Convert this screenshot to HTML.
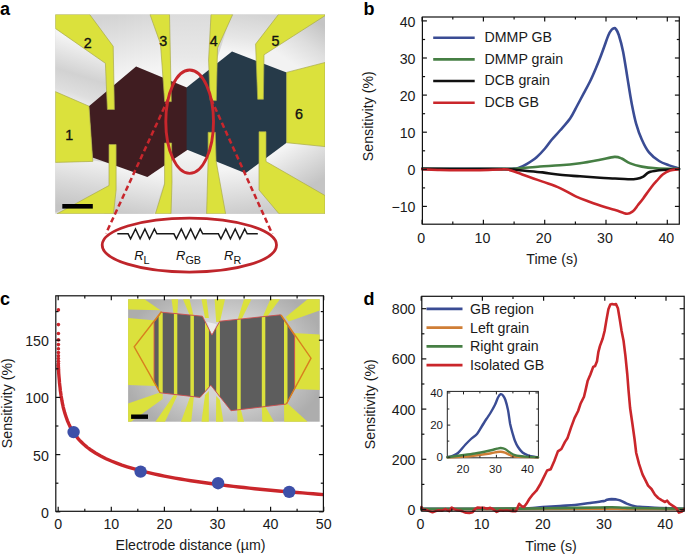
<!DOCTYPE html>
<html><head><meta charset="utf-8"><style>
html,body{margin:0;padding:0;background:#fff;}
svg{display:block;font-family:"Liberation Sans", sans-serif;}
</style></head><body>
<svg width="685" height="555" viewBox="0 0 685 555" font-family='"Liberation Sans", sans-serif'>
<rect width="685" height="555" fill="#fff"/>
<g id="pa">
<defs><linearGradient id="ga1" gradientUnits="userSpaceOnUse" x1="84.0" y1="42.0" x2="66.0" y2="100.0"><stop offset="0" stop-color="#f4f4f4"/><stop offset="0.55" stop-color="#d2d2d2"/><stop offset="0.85" stop-color="#dedede"/><stop offset="1" stop-color="#ececec"/></linearGradient><linearGradient id="ga2" gradientUnits="userSpaceOnUse" x1="120.0" y1="14.0" x2="135.0" y2="74.0"><stop offset="0" stop-color="#d4d4d4"/><stop offset="0.5" stop-color="#e4e4e4"/><stop offset="1" stop-color="#f4f4f4"/></linearGradient><linearGradient id="ga3" gradientUnits="userSpaceOnUse" x1="190.0" y1="14.0" x2="190.0" y2="85.0"><stop offset="0" stop-color="#dcdcdc"/><stop offset="0.6" stop-color="#e8e8e8"/><stop offset="1" stop-color="#f6f6f6"/></linearGradient><linearGradient id="ga4" gradientUnits="userSpaceOnUse" x1="250.0" y1="14.0" x2="245.0" y2="55.0"><stop offset="0" stop-color="#d4d4d4"/><stop offset="0.6" stop-color="#e6e6e6"/><stop offset="1" stop-color="#f6f6f6"/></linearGradient><linearGradient id="ga5" gradientUnits="userSpaceOnUse" x1="318.0" y1="22.0" x2="290.0" y2="62.0"><stop offset="0" stop-color="#c4c4c4"/><stop offset="0.5" stop-color="#dedede"/><stop offset="1" stop-color="#f2f2f2"/></linearGradient><linearGradient id="ga6" gradientUnits="userSpaceOnUse" x1="80.0" y1="160.0" x2="72.0" y2="208.0"><stop offset="0" stop-color="#eeeeee"/><stop offset="0.5" stop-color="#d8d8d8"/><stop offset="1" stop-color="#c4c4c4"/></linearGradient><linearGradient id="ga7" gradientUnits="userSpaceOnUse" x1="135.0" y1="170.0" x2="128.0" y2="213.0"><stop offset="0" stop-color="#f4f4f4"/><stop offset="0.5" stop-color="#e0e0e0"/><stop offset="1" stop-color="#cbcbcb"/></linearGradient><linearGradient id="ga8" gradientUnits="userSpaceOnUse" x1="188.0" y1="150.0" x2="188.0" y2="213.0"><stop offset="0" stop-color="#f6f6f6"/><stop offset="0.5" stop-color="#e4e4e4"/><stop offset="1" stop-color="#d0d0d0"/></linearGradient><linearGradient id="ga9" gradientUnits="userSpaceOnUse" x1="240.0" y1="168.0" x2="245.0" y2="213.0"><stop offset="0" stop-color="#f4f4f4"/><stop offset="0.5" stop-color="#e0e0e0"/><stop offset="1" stop-color="#cccccc"/></linearGradient><linearGradient id="ga10" gradientUnits="userSpaceOnUse" x1="280.0" y1="150.0" x2="305.0" y2="190.0"><stop offset="0" stop-color="#f4f4f4"/><stop offset="0.5" stop-color="#dcdcdc"/><stop offset="1" stop-color="#c4c4c4"/></linearGradient></defs>
<rect x="55.3" y="14.5" width="269.7" height="199.3" fill="#d6d6d6"/>
<polygon points="55.3,27.0 106.0,62.5 106.0,93.0 88.9,107.0 55.3,92.5" fill="url(#ga1)"/>
<polygon points="89.0,14.5 151.0,14.5 161.5,44.0 165.0,78.6 136.1,66.4 112.5,86.6 112.5,46.0" fill="url(#ga2)"/>
<polygon points="168.5,14.5 211.0,14.5 209.5,64.0 210.0,70.0 186.6,88.5 170.0,81.0" fill="url(#ga3)"/>
<polygon points="231.5,14.5 279.4,14.5 256.5,44.1 257.0,62.0 232.0,51.5 215.0,65.5" fill="url(#ga4)"/>
<polygon points="325.0,14.7 263.0,54.8 263.0,66.0 286.6,73.4 325.0,63.5" fill="url(#ga5)"/>
<polygon points="55.3,161.4 93.8,160.4 109.6,163.0 109.6,187.0 55.3,212.5" fill="url(#ga6)"/>
<polygon points="115.2,164.0 147.4,176.9 165.5,163.5 165.5,178.8 153.7,213.8 104.0,213.8 115.2,199.7" fill="url(#ga7)"/>
<polygon points="170.3,151.5 186.6,148.6 209.1,157.3 207.6,213.8 168.5,213.8 171.0,182.0" fill="url(#ga8)"/>
<polygon points="215.1,159.9 245.5,172.2 259.8,162.4 259.8,190.0 280.0,213.8 224.6,213.8" fill="url(#ga9)"/>
<polygon points="265.4,158.5 286.6,141.7 325.0,145.6 325.0,197.0 265.4,161.9" fill="url(#ga10)"/>
<polygon points="136.1,66.4 188.0,88.0 188.0,149.6 147.4,176.9 92.5,157.5 88.9,106.2" fill="#401d21"/>
<polygon points="232.0,51.5 286.6,72.4 286.6,142.7 245.5,173.2 186.6,149.6 186.6,87.4" fill="#263a49"/>
<clipPath id="aclip"><rect x="55.3" y="14.5" width="269.7" height="199.3"/></clipPath>
<g clip-path="url(#aclip)">
<polygon points="55.3,14.5 89.7,14.5 113.2,46.3 114.4,109.5 107.4,109.5 105.4,63.3 55.3,28.4" fill="#dbe13c" stroke="#a9ab4a" stroke-width="0.7"/>
<polygon points="55.3,91.6 89.0,106.2 92.8,161.4 55.3,162.4" fill="#dbe13c" stroke="#a9ab4a" stroke-width="0.7"/>
<polygon points="150.0,14.5 169.5,14.5 171.3,101.6 164.7,101.6 160.5,44.0" fill="#dbe13c" stroke="#a9ab4a" stroke-width="0.7"/>
<polygon points="211.0,14.5 232.7,14.5 217.5,48.0 216.3,100.6 210.2,100.6 208.6,60.0" fill="#dbe13c" stroke="#a9ab4a" stroke-width="0.7"/>
<polygon points="278.4,14.5 325.0,14.5 325.0,15.7 264.0,54.8 263.4,99.3 257.7,99.3 255.6,44.1" fill="#dbe13c" stroke="#a9ab4a" stroke-width="0.7"/>
<polygon points="286.6,72.4 325.0,62.5 325.0,146.6 286.6,142.7" fill="#dbe13c" stroke="#a9ab4a" stroke-width="0.7"/>
<polygon points="109.0,144.5 116.1,144.5 116.1,190.0 113.5,213.8 57.0,213.8 109.0,185.5" fill="#dbe13c" stroke="#a9ab4a" stroke-width="0.7"/>
<polygon points="164.6,143.0 171.6,143.0 172.0,182.0 171.0,213.8 155.4,213.8 164.6,184.0" fill="#dbe13c" stroke="#a9ab4a" stroke-width="0.7"/>
<polygon points="208.1,132.3 215.3,132.3 216.1,160.9 225.6,213.8 206.6,213.8 208.1,160.0" fill="#dbe13c" stroke="#a9ab4a" stroke-width="0.7"/>
<polygon points="259.0,131.7 266.0,131.7 266.0,161.5 325.0,195.5 325.0,213.8 279.0,213.8 259.0,190.0" fill="#dbe13c" stroke="#a9ab4a" stroke-width="0.7"/>
</g>
<rect x="62.3" y="204" width="30.5" height="4.6" fill="#000"/>
<text x="87.7" y="47.8" font-size="14.3" text-anchor="middle" fill="#111" stroke="#111" stroke-width="0.35">2</text>
<text x="163.3" y="46" font-size="14.3" text-anchor="middle" fill="#111" stroke="#111" stroke-width="0.35">3</text>
<text x="213.7" y="46" font-size="14.3" text-anchor="middle" fill="#111" stroke="#111" stroke-width="0.35">4</text>
<text x="275.5" y="46" font-size="14.3" text-anchor="middle" fill="#111" stroke="#111" stroke-width="0.35">5</text>
<text x="69.2" y="140.4" font-size="14.3" text-anchor="middle" fill="#111" stroke="#111" stroke-width="0.35">1</text>
<text x="299" y="119.4" font-size="14.3" text-anchor="middle" fill="#111" stroke="#111" stroke-width="0.35">6</text>
<ellipse cx="189.65" cy="121.7" rx="23.85" ry="51.7" fill="none" stroke="#c8262c" stroke-width="2.9"/>
<line x1="168.2" y1="99" x2="106" y2="233.5" stroke="#c8262c" stroke-width="2.5" stroke-dasharray="5.4,3.3"/>
<line x1="211.1" y1="99" x2="272.3" y2="234" stroke="#c8262c" stroke-width="2.5" stroke-dasharray="5.4,3.3"/>
<ellipse cx="189.35" cy="245.1" rx="87.15" ry="27" fill="none" stroke="#bf252b" stroke-width="2.8"/>
<polyline points="117.3,233.8 128.1,233.8 130.6,238.8 135.5,228.9 140.1,238.8 144.9,228.9 149.5,238.8 154.4,228.9 156.9,233.8 173.9,233.8 176.4,238.8 181.3,228.9 185.9,238.8 190.7,228.9 195.3,238.8 200.2,228.9 202.7,233.8 218.4,233.8 220.9,238.8 225.8,228.9 230.4,238.8 235.2,228.9 239.8,238.8 244.7,228.9 247.2,233.8 257.8,233.8" fill="none" stroke="#1a1a1a" stroke-width="1.5" stroke-linejoin="miter"/>
<text x="134.2" y="260.1" font-size="13" font-style="italic" fill="#111">R<tspan font-style="normal" font-size="10.8" dy="3.8">L</tspan></text>
<text x="176" y="260.1" font-size="13" font-style="italic" fill="#111">R<tspan font-style="normal" font-size="10.8" dy="3.8">GB</tspan></text>
<text x="224" y="260.1" font-size="13" font-style="italic" fill="#111">R<tspan font-style="normal" font-size="10.8" dy="3.8">R</tspan></text>
<text x="0" y="15.2" font-size="18" font-weight="bold" fill="#000">a</text>
</g>
<text x="363.5" y="15.3" font-size="18" font-weight="bold">b</text>
<g fill="none" stroke-width="2.6" stroke-linejoin="round" stroke-linecap="round">
<path d="M422.3,168.9 C436.1,168.9 490.1,168.9 505.0,168.9 C520.0,168.9 509.8,168.8 512.0,168.7 C514.2,168.5 515.9,168.8 518.4,168.0 C520.9,167.2 524.0,165.6 527.0,163.8 C530.0,162.0 533.6,159.8 536.6,157.2 C539.6,154.6 542.5,151.4 545.0,148.5 C547.5,145.6 549.4,142.5 551.9,139.5 C554.4,136.5 557.0,134.0 560.0,130.5 C563.0,127.0 567.3,122.6 570.1,118.5 C572.9,114.4 574.7,110.3 577.0,106.0 C579.3,101.7 581.9,96.8 584.1,92.7 C586.3,88.6 588.0,85.5 590.0,81.5 C592.0,77.5 594.0,72.8 595.8,68.5 C597.6,64.2 599.5,59.5 601.0,55.5 C602.5,51.5 603.8,47.9 605.0,44.5 C606.2,41.1 607.4,37.5 608.5,35.0 C609.6,32.5 610.7,30.9 611.6,29.8 C612.5,28.7 613.1,28.5 613.8,28.3 C614.5,28.1 615.0,27.8 615.8,28.9 C616.6,30.0 617.6,31.2 618.8,35.0 C620.0,38.8 621.7,44.6 623.1,51.7 C624.5,58.8 626.0,69.0 627.4,77.6 C628.8,86.2 630.2,95.8 631.7,103.5 C633.2,111.2 634.4,117.6 636.1,123.6 C637.8,129.6 639.6,134.7 641.8,139.5 C643.9,144.3 646.1,148.8 649.0,152.4 C651.9,156.0 655.7,158.8 659.1,161.0 C662.5,163.2 666.1,164.2 669.2,165.4 C672.3,166.6 676.2,167.6 677.8,168.2 C679.4,168.8 678.8,168.8 679.0,168.9" stroke="#3a4c94"/>
<path d="M422.3,168.9 C436.1,168.9 489.0,169.0 505.0,168.9 C521.0,168.8 512.6,168.8 518.4,168.4 C524.2,168.0 533.1,167.0 540.0,166.5 C546.9,166.0 553.3,165.9 560.0,165.3 C566.7,164.8 573.3,164.1 580.0,163.2 C586.7,162.3 594.2,160.8 600.0,159.7 C605.8,158.6 610.9,157.1 614.5,156.9 C618.1,156.7 619.1,157.4 621.7,158.5 C624.3,159.6 626.9,162.1 630.3,163.4 C633.6,164.8 637.5,165.8 641.8,166.6 C646.1,167.4 650.0,167.8 656.2,168.2 C662.4,168.6 675.2,168.8 679.0,168.9" stroke="#467f44"/>
<path d="M422.3,168.9 C430.2,168.9 455.7,169.1 470.0,169.1 C484.3,169.1 498.7,168.9 507.9,169.2 C517.1,169.5 519.2,170.3 525.0,170.8 C530.8,171.3 536.8,171.7 542.6,172.4 C548.4,173.1 553.8,174.2 560.0,174.8 C566.2,175.5 573.3,175.8 580.0,176.3 C586.7,176.8 594.2,177.3 600.0,177.7 C605.8,178.1 610.3,178.2 615.0,178.5 C619.7,178.8 624.3,179.2 628.0,179.3 C631.7,179.4 634.5,179.2 637.0,178.8 C639.5,178.4 641.3,177.7 643.3,176.6 C645.3,175.5 646.4,173.4 649.0,172.3 C651.6,171.2 655.6,170.8 659.1,170.3 C662.6,169.9 666.7,169.8 670.0,169.6 C673.3,169.4 677.5,169.1 679.0,169.0" stroke="#111111"/>
<path d="M422.3,169.2 C425.2,169.3 433.7,169.8 440.0,170.0 C446.3,170.2 453.3,170.3 460.0,170.3 C466.7,170.3 473.3,170.3 480.0,170.2 C486.7,170.1 495.4,169.6 500.0,169.5 C504.6,169.4 504.2,168.8 507.9,169.6 C511.6,170.4 516.4,172.4 522.2,174.4 C528.0,176.4 536.3,179.3 542.6,181.6 C548.9,183.9 554.5,185.6 560.0,188.1 C565.5,190.6 570.7,194.1 575.7,196.4 C580.7,198.7 584.9,200.1 590.0,202.0 C595.1,203.9 602.0,206.2 606.3,207.6 C610.6,209.0 612.6,209.2 616.0,210.2 C619.4,211.2 624.0,213.5 626.8,213.7 C629.6,213.9 631.0,212.6 632.9,211.2 C634.8,209.8 636.3,207.1 638.0,205.0 C639.7,202.9 641.0,201.4 643.2,198.4 C645.4,195.4 648.9,190.3 651.3,187.2 C653.7,184.1 655.6,182.1 657.5,180.0 C659.4,177.9 660.6,176.1 662.7,174.5 C664.8,172.9 667.4,171.4 670.0,170.5 C672.6,169.6 677.1,169.4 678.5,169.2" stroke="#ca262b"/>
</g>
<g font-family='"Liberation Sans", sans-serif' fill="#1a1a1a">
<rect x="422.4" y="17.0" width="256.9" height="207.2" fill="none" stroke="#111" stroke-width="1.2"/>
<line x1="422.1" y1="224.2" x2="422.1" y2="219.7" stroke="#111" stroke-width="1.2"/>
<line x1="422.1" y1="17.0" x2="422.1" y2="21.5" stroke="#111" stroke-width="1.2"/>
<text x="421.1" y="242.8" font-size="14.2" text-anchor="middle">0</text>
<line x1="483.4" y1="224.2" x2="483.4" y2="219.7" stroke="#111" stroke-width="1.2"/>
<line x1="483.4" y1="17.0" x2="483.4" y2="21.5" stroke="#111" stroke-width="1.2"/>
<text x="482.4" y="242.8" font-size="14.2" text-anchor="middle">10</text>
<line x1="544.7" y1="224.2" x2="544.7" y2="219.7" stroke="#111" stroke-width="1.2"/>
<line x1="544.7" y1="17.0" x2="544.7" y2="21.5" stroke="#111" stroke-width="1.2"/>
<text x="543.7" y="242.8" font-size="14.2" text-anchor="middle">20</text>
<line x1="606.0" y1="224.2" x2="606.0" y2="219.7" stroke="#111" stroke-width="1.2"/>
<line x1="606.0" y1="17.0" x2="606.0" y2="21.5" stroke="#111" stroke-width="1.2"/>
<text x="605.0" y="242.8" font-size="14.2" text-anchor="middle">30</text>
<line x1="667.3" y1="224.2" x2="667.3" y2="219.7" stroke="#111" stroke-width="1.2"/>
<line x1="667.3" y1="17.0" x2="667.3" y2="21.5" stroke="#111" stroke-width="1.2"/>
<text x="666.3" y="242.8" font-size="14.2" text-anchor="middle">40</text>
<line x1="452.8" y1="224.2" x2="452.8" y2="221.6" stroke="#111" stroke-width="1.2"/>
<line x1="452.8" y1="17.0" x2="452.8" y2="19.6" stroke="#111" stroke-width="1.2"/>
<line x1="514.1" y1="224.2" x2="514.1" y2="221.6" stroke="#111" stroke-width="1.2"/>
<line x1="514.1" y1="17.0" x2="514.1" y2="19.6" stroke="#111" stroke-width="1.2"/>
<line x1="575.4" y1="224.2" x2="575.4" y2="221.6" stroke="#111" stroke-width="1.2"/>
<line x1="575.4" y1="17.0" x2="575.4" y2="19.6" stroke="#111" stroke-width="1.2"/>
<line x1="636.6" y1="224.2" x2="636.6" y2="221.6" stroke="#111" stroke-width="1.2"/>
<line x1="636.6" y1="17.0" x2="636.6" y2="19.6" stroke="#111" stroke-width="1.2"/>
<line x1="422.4" y1="20.9" x2="426.9" y2="20.9" stroke="#111" stroke-width="1.2"/>
<line x1="679.4" y1="20.9" x2="674.9" y2="20.9" stroke="#111" stroke-width="1.2"/>
<text x="415.5" y="26.8" font-size="14.2" text-anchor="end">40</text>
<line x1="422.4" y1="58.0" x2="426.9" y2="58.0" stroke="#111" stroke-width="1.2"/>
<line x1="679.4" y1="58.0" x2="674.9" y2="58.0" stroke="#111" stroke-width="1.2"/>
<text x="415.5" y="63.9" font-size="14.2" text-anchor="end">30</text>
<line x1="422.4" y1="95.1" x2="426.9" y2="95.1" stroke="#111" stroke-width="1.2"/>
<line x1="679.4" y1="95.1" x2="674.9" y2="95.1" stroke="#111" stroke-width="1.2"/>
<text x="415.5" y="101.0" font-size="14.2" text-anchor="end">20</text>
<line x1="422.4" y1="132.2" x2="426.9" y2="132.2" stroke="#111" stroke-width="1.2"/>
<line x1="679.4" y1="132.2" x2="674.9" y2="132.2" stroke="#111" stroke-width="1.2"/>
<text x="415.5" y="138.1" font-size="14.2" text-anchor="end">10</text>
<line x1="422.4" y1="169.3" x2="426.9" y2="169.3" stroke="#111" stroke-width="1.2"/>
<line x1="679.4" y1="169.3" x2="674.9" y2="169.3" stroke="#111" stroke-width="1.2"/>
<text x="415.5" y="175.2" font-size="14.2" text-anchor="end">0</text>
<line x1="422.4" y1="206.4" x2="426.9" y2="206.4" stroke="#111" stroke-width="1.2"/>
<line x1="679.4" y1="206.4" x2="674.9" y2="206.4" stroke="#111" stroke-width="1.2"/>
<text x="415.5" y="212.3" font-size="14.2" text-anchor="end">−10</text>
<line x1="422.4" y1="39.5" x2="425.1" y2="39.5" stroke="#111" stroke-width="1.2"/>
<line x1="679.4" y1="39.5" x2="676.8" y2="39.5" stroke="#111" stroke-width="1.2"/>
<line x1="422.4" y1="76.6" x2="425.1" y2="76.6" stroke="#111" stroke-width="1.2"/>
<line x1="679.4" y1="76.6" x2="676.8" y2="76.6" stroke="#111" stroke-width="1.2"/>
<line x1="422.4" y1="113.7" x2="425.1" y2="113.7" stroke="#111" stroke-width="1.2"/>
<line x1="679.4" y1="113.7" x2="676.8" y2="113.7" stroke="#111" stroke-width="1.2"/>
<line x1="422.4" y1="150.8" x2="425.1" y2="150.8" stroke="#111" stroke-width="1.2"/>
<line x1="679.4" y1="150.8" x2="676.8" y2="150.8" stroke="#111" stroke-width="1.2"/>
<line x1="422.4" y1="187.9" x2="425.1" y2="187.9" stroke="#111" stroke-width="1.2"/>
<line x1="679.4" y1="187.9" x2="676.8" y2="187.9" stroke="#111" stroke-width="1.2"/>
</g>
<line x1="433.2" y1="37.7" x2="474.7" y2="37.7" stroke="#3a4c94" stroke-width="2.6"/>
<text x="484.5" y="41.8" font-size="14.2" fill="#1a1a1a">DMMP GB</text>
<line x1="433.2" y1="59.4" x2="474.7" y2="59.4" stroke="#467f44" stroke-width="2.6"/>
<text x="484.5" y="63.5" font-size="14.2" fill="#1a1a1a">DMMP grain</text>
<line x1="433.2" y1="81.0" x2="474.7" y2="81.0" stroke="#111111" stroke-width="2.6"/>
<text x="484.5" y="85.1" font-size="14.2" fill="#1a1a1a">DCB grain</text>
<line x1="433.2" y1="102.7" x2="474.7" y2="102.7" stroke="#ca262b" stroke-width="2.6"/>
<text x="484.5" y="106.8" font-size="14.2" fill="#1a1a1a">DCB GB</text>
<text x="552" y="263.7" font-size="14.2" text-anchor="middle" fill="#1a1a1a">Time (s)</text>
<text transform="translate(372.5,116.2) rotate(-90)" font-size="14.2" text-anchor="middle" fill="#1a1a1a">Sensitivity (%)</text>
<text x="0" y="304.6" font-size="18" font-weight="bold">c</text>
<g>
<defs><radialGradient id="gc1" gradientUnits="userSpaceOnUse" cx="224" cy="360" r="105" gradientTransform="translate(224 360) scale(1 0.75) translate(-224 -360)"><stop offset="0.5" stop-color="#d4d4d4"/><stop offset="1" stop-color="#adadad"/></radialGradient></defs>
<rect x="128.1" y="299.2" width="191.6" height="122.5" fill="url(#gc1)"/>
<polygon points="128.1,299.2 144.5,299.2 160.5,310.3 128.1,309.5" fill="#dbe13c"/>
<polygon points="128.1,318.0 156.0,320.5 156.0,386.0 128.1,385.0" fill="#dbe13c"/>
<polygon points="171.5,299.2 178.1,299.2 177.3,316.0 173.9,316.0" fill="#dbe13c"/>
<polygon points="183.0,299.2 189.5,299.2 193.9,317.0 190.4,317.0" fill="#dbe13c"/>
<polygon points="201.5,299.2 206.6,299.2 208.9,318.0 205.0,318.0" fill="#dbe13c"/>
<polygon points="214.6,299.2 225.0,299.2 219.9,322.0 216.2,322.0" fill="#dbe13c"/>
<polygon points="244.0,299.2 251.4,299.2 240.7,321.0 237.2,321.0" fill="#dbe13c"/>
<polygon points="270.4,299.2 279.9,299.2 265.3,319.0 261.8,319.0" fill="#dbe13c"/>
<polygon points="285.7,317.0 307.6,299.2 319.7,299.2 319.7,310.4 288.6,321.4" fill="#dbe13c"/>
<polygon points="293.0,333.0 319.7,334.5 319.7,390.0 293.0,389.0" fill="#dbe13c"/>
<polygon points="158.6,393.0 162.7,394.0 162.7,399.0 131.0,421.7 128.1,421.7 128.1,403.5" fill="#dbe13c"/>
<polygon points="173.9,395.0 177.3,395.5 165.0,421.7 155.4,421.7" fill="#dbe13c"/>
<polygon points="190.4,396.0 193.9,396.5 191.2,421.7 181.0,421.7" fill="#dbe13c"/>
<polygon points="205.0,395.0 208.9,391.0 208.8,421.7 201.5,421.7" fill="#dbe13c"/>
<polygon points="216.2,396.0 219.9,400.0 223.4,421.7 216.0,421.7" fill="#dbe13c"/>
<polygon points="237.2,409.0 240.7,409.0 244.0,421.7 237.5,421.7" fill="#dbe13c"/>
<polygon points="261.8,407.0 265.3,406.5 274.0,421.7 262.3,421.7" fill="#dbe13c"/>
<polygon points="284.0,404.0 287.5,403.5 307.6,421.7 284.2,421.7" fill="#dbe13c"/>
<polygon points="207,322 216.5,324 211.9,336" fill="#ececec"/>
<polygon points="154.1,322.0 161.5,312.2 202.4,316.2 211.9,335.1 219.9,321.2 280.6,314.8 294.6,336.0 294.6,388.6 286.4,404.0 231.0,410.7 210.8,385.2 200.0,397.4 160.2,392.8 154.1,382.1" fill="#5d5d5d"/>
<clipPath id="fc"><polygon points="154.1,322.0 161.5,312.2 202.4,316.2 211.9,335.1 219.9,321.2 280.6,314.8 294.6,336.0 294.6,388.6 286.4,404.0 231.0,410.7 210.8,385.2 200.0,397.4 160.2,392.8 154.1,382.1"/></clipPath>
<g clip-path="url(#fc)">
<rect x="158.6" y="299" width="4.1" height="122" fill="#dbe13c"/>
<rect x="173.9" y="299" width="3.4" height="122" fill="#dbe13c"/>
<rect x="190.4" y="299" width="3.5" height="122" fill="#dbe13c"/>
<rect x="205.0" y="299" width="3.9" height="122" fill="#dbe13c"/>
<rect x="216.2" y="299" width="3.7" height="122" fill="#dbe13c"/>
<rect x="237.2" y="299" width="3.5" height="122" fill="#dbe13c"/>
<rect x="261.8" y="299" width="3.5" height="122" fill="#dbe13c"/>
<rect x="284.0" y="299" width="3.5" height="122" fill="#dbe13c"/>
</g>
<polygon points="154.1,322.0 161.5,312.2 202.4,316.2 211.9,335.1 219.9,321.2 280.6,314.8 294.6,336.0 294.6,388.6 286.4,404.0 231.0,410.7 210.8,385.2 200.0,397.4 160.2,392.8 154.1,382.1" fill="none" stroke="#cf4f4f" stroke-width="0.9"/>
<polyline points="161.5,311.5 134.2,346.9 160.2,392.8" fill="none" stroke="#d8801e" stroke-width="1.4"/>
<polyline points="281.0,315.0 311.0,358.2 286.4,404.0" fill="none" stroke="#d8801e" stroke-width="1.4"/>
<rect x="131.1" y="414.5" width="16.9" height="4.4" fill="#000"/>
</g>
<path d="M58.2,364.1 L58.5,368.9 L58.7,373.1 L59.0,376.8 L59.3,380.0 L59.5,382.9 L59.8,385.6 L60.1,388.0 L60.3,390.2 L60.6,392.3 L60.9,394.2 L61.1,396.0 L61.4,397.6 L61.7,399.2 L61.9,400.7 L62.2,402.1 L62.4,403.4 L62.7,404.7 L63.0,405.9 L63.2,407.1 L63.5,408.2 L64.8,413.1 L66.2,417.2 L67.5,420.8 L68.8,423.9 L70.1,426.6 L71.5,429.1 L72.8,431.3 L74.1,433.3 L75.5,435.2 L76.8,436.9 L78.1,438.6 L79.4,440.1 L80.8,441.5 L82.1,442.8 L83.4,444.1 L84.8,445.3 L86.1,446.4 L87.4,447.5 L88.7,448.5 L90.1,449.5 L95.4,453.0 L100.7,456.0 L106.0,458.7 L111.3,461.0 L116.6,463.1 L121.9,465.1 L127.2,466.8 L132.5,468.4 L137.8,469.9 L143.2,471.3 L148.5,472.6 L153.8,473.8 L159.1,475.0 L164.4,476.1 L169.7,477.1 L175.0,478.1 L180.3,479.0 L185.6,479.9 L190.9,480.7 L196.3,481.5 L201.6,482.3 L206.9,483.0 L212.2,483.8 L217.5,484.4 L222.8,485.1 L228.1,485.7 L233.4,486.4 L238.7,487.0 L244.1,487.5 L249.4,488.1 L254.7,488.7 L260.0,489.2 L265.3,489.7 L270.6,490.2 L275.9,490.7 L281.2,491.2 L286.5,491.6 L291.8,492.1 L297.1,492.5 L302.5,492.9 L307.8,493.4 L313.1,493.8 L318.4,494.2 L323.7,494.6" fill="none" stroke="#ca262b" stroke-width="3.4"/>
<circle cx="58.4" cy="309.9" r="1.8" fill="#ca262b"/>
<circle cx="58.4" cy="324.6" r="1.8" fill="#ca262b"/>
<circle cx="58.4" cy="333.5" r="1.8" fill="#ca262b"/>
<circle cx="58.4" cy="339.9" r="1.8" fill="#ca262b"/>
<circle cx="58.4" cy="344.6" r="1.8" fill="#ca262b"/>
<circle cx="58.4" cy="348.8" r="1.8" fill="#ca262b"/>
<circle cx="58.4" cy="352.6" r="1.8" fill="#ca262b"/>
<circle cx="58.4" cy="355.8" r="1.8" fill="#ca262b"/>
<circle cx="58.4" cy="358.6" r="1.8" fill="#ca262b"/>
<circle cx="58.4" cy="361.2" r="1.8" fill="#ca262b"/>
<circle cx="58.4" cy="363.6" r="1.8" fill="#ca262b"/>
<circle cx="58.4" cy="365.8" r="1.8" fill="#ca262b"/>
<circle cx="58.4" cy="367.8" r="1.8" fill="#ca262b"/>
<circle cx="58.4" cy="369.7" r="1.8" fill="#ca262b"/>
<circle cx="73.6" cy="432.1" r="6.2" fill="#3d4fa8"/>
<circle cx="140.6" cy="471.6" r="6.2" fill="#3d4fa8"/>
<circle cx="218.1" cy="483.2" r="6.2" fill="#3d4fa8"/>
<circle cx="289.2" cy="491.9" r="6.2" fill="#3d4fa8"/>
<g fill="#1a1a1a">
<rect x="55.8" y="295.8" width="267.6" height="215.5" fill="none" stroke="#111" stroke-width="1.2"/>
<line x1="58.2" y1="511.3" x2="58.2" y2="506.8" stroke="#111" stroke-width="1.2"/>
<line x1="58.2" y1="295.8" x2="58.2" y2="300.3" stroke="#111" stroke-width="1.2"/>
<text x="58.2" y="529.3" font-size="14.2" text-anchor="middle">0</text>
<line x1="111.3" y1="511.3" x2="111.3" y2="506.8" stroke="#111" stroke-width="1.2"/>
<line x1="111.3" y1="295.8" x2="111.3" y2="300.3" stroke="#111" stroke-width="1.2"/>
<text x="111.3" y="529.3" font-size="14.2" text-anchor="middle">10</text>
<line x1="164.4" y1="511.3" x2="164.4" y2="506.8" stroke="#111" stroke-width="1.2"/>
<line x1="164.4" y1="295.8" x2="164.4" y2="300.3" stroke="#111" stroke-width="1.2"/>
<text x="164.4" y="529.3" font-size="14.2" text-anchor="middle">20</text>
<line x1="217.5" y1="511.3" x2="217.5" y2="506.8" stroke="#111" stroke-width="1.2"/>
<line x1="217.5" y1="295.8" x2="217.5" y2="300.3" stroke="#111" stroke-width="1.2"/>
<text x="217.5" y="529.3" font-size="14.2" text-anchor="middle">30</text>
<line x1="270.6" y1="511.3" x2="270.6" y2="506.8" stroke="#111" stroke-width="1.2"/>
<line x1="270.6" y1="295.8" x2="270.6" y2="300.3" stroke="#111" stroke-width="1.2"/>
<text x="270.6" y="529.3" font-size="14.2" text-anchor="middle">40</text>
<line x1="323.7" y1="511.3" x2="323.7" y2="506.8" stroke="#111" stroke-width="1.2"/>
<line x1="323.7" y1="295.8" x2="323.7" y2="300.3" stroke="#111" stroke-width="1.2"/>
<text x="323.7" y="529.3" font-size="14.2" text-anchor="middle">50</text>
<line x1="84.8" y1="511.3" x2="84.8" y2="508.7" stroke="#111" stroke-width="1.2"/>
<line x1="84.8" y1="295.8" x2="84.8" y2="298.4" stroke="#111" stroke-width="1.2"/>
<line x1="137.8" y1="511.3" x2="137.8" y2="508.7" stroke="#111" stroke-width="1.2"/>
<line x1="137.8" y1="295.8" x2="137.8" y2="298.4" stroke="#111" stroke-width="1.2"/>
<line x1="190.9" y1="511.3" x2="190.9" y2="508.7" stroke="#111" stroke-width="1.2"/>
<line x1="190.9" y1="295.8" x2="190.9" y2="298.4" stroke="#111" stroke-width="1.2"/>
<line x1="244.1" y1="511.3" x2="244.1" y2="508.7" stroke="#111" stroke-width="1.2"/>
<line x1="244.1" y1="295.8" x2="244.1" y2="298.4" stroke="#111" stroke-width="1.2"/>
<line x1="297.1" y1="511.3" x2="297.1" y2="508.7" stroke="#111" stroke-width="1.2"/>
<line x1="297.1" y1="295.8" x2="297.1" y2="298.4" stroke="#111" stroke-width="1.2"/>
<line x1="55.8" y1="511.8" x2="60.3" y2="511.8" stroke="#111" stroke-width="1.2"/>
<line x1="323.4" y1="511.8" x2="318.9" y2="511.8" stroke="#111" stroke-width="1.2"/>
<text x="48.8" y="517.7" font-size="14.2" text-anchor="end">0</text>
<line x1="55.8" y1="454.6" x2="60.3" y2="454.6" stroke="#111" stroke-width="1.2"/>
<line x1="323.4" y1="454.6" x2="318.9" y2="454.6" stroke="#111" stroke-width="1.2"/>
<text x="48.8" y="460.5" font-size="14.2" text-anchor="end">50</text>
<line x1="55.8" y1="397.4" x2="60.3" y2="397.4" stroke="#111" stroke-width="1.2"/>
<line x1="323.4" y1="397.4" x2="318.9" y2="397.4" stroke="#111" stroke-width="1.2"/>
<text x="48.8" y="403.3" font-size="14.2" text-anchor="end">100</text>
<line x1="55.8" y1="340.2" x2="60.3" y2="340.2" stroke="#111" stroke-width="1.2"/>
<line x1="323.4" y1="340.2" x2="318.9" y2="340.2" stroke="#111" stroke-width="1.2"/>
<text x="48.8" y="346.1" font-size="14.2" text-anchor="end">150</text>
<line x1="55.8" y1="483.2" x2="58.4" y2="483.2" stroke="#111" stroke-width="1.2"/>
<line x1="323.4" y1="483.2" x2="320.8" y2="483.2" stroke="#111" stroke-width="1.2"/>
<line x1="55.8" y1="426.0" x2="58.4" y2="426.0" stroke="#111" stroke-width="1.2"/>
<line x1="323.4" y1="426.0" x2="320.8" y2="426.0" stroke="#111" stroke-width="1.2"/>
<line x1="55.8" y1="368.8" x2="58.4" y2="368.8" stroke="#111" stroke-width="1.2"/>
<line x1="323.4" y1="368.8" x2="320.8" y2="368.8" stroke="#111" stroke-width="1.2"/>
<line x1="55.8" y1="311.6" x2="58.4" y2="311.6" stroke="#111" stroke-width="1.2"/>
<line x1="323.4" y1="311.6" x2="320.8" y2="311.6" stroke="#111" stroke-width="1.2"/>
</g>
<text x="190.5" y="550" font-size="14.2" text-anchor="middle" fill="#1a1a1a">Electrode distance (µm)</text>
<text transform="translate(11.6,403.2) rotate(-90)" font-size="14.2" text-anchor="middle" fill="#1a1a1a">Sensitivity (%)</text>
<text x="363.5" y="304.5" font-size="18" font-weight="bold">d</text>
<g fill="none" stroke-width="2.6" stroke-linejoin="round" stroke-linecap="round">
<path d="M421.5,508.8 C437.6,508.8 498.2,508.9 518.0,508.6 C537.8,508.4 533.0,507.7 540.0,507.3 C547.0,506.9 554.2,506.4 560.0,506.0 C565.8,505.6 570.0,505.5 575.0,505.0 C580.0,504.5 585.2,503.6 590.0,503.0 C594.8,502.4 600.7,501.7 603.5,501.1 C606.3,500.6 605.6,500.0 607.0,499.7 C608.4,499.4 610.1,499.2 611.6,499.1 C613.1,499.1 614.6,499.2 616.0,499.4 C617.4,499.6 618.3,499.7 620.1,500.4 C621.9,501.1 624.1,502.6 626.7,503.6 C629.3,504.6 633.1,505.9 635.7,506.5 C638.3,507.1 638.5,506.8 642.5,507.0 C646.5,507.2 653.1,507.7 660.0,508.0 C666.9,508.3 680.0,508.7 684.0,508.8" stroke="#3a4c94"/>
<path d="M421.5,509.2 C451.2,509.1 568.2,508.8 600.0,508.7 C631.8,508.6 607.0,508.5 612.0,508.5 C617.0,508.5 618.0,508.8 630.0,508.9 C642.0,509.0 675.0,509.1 684.0,509.2" stroke="#cf7e36"/>
<path d="M421.5,508.8 C437.9,508.8 496.9,508.7 520.0,508.6 C543.1,508.5 546.7,508.3 560.0,508.1 C573.3,507.9 591.3,507.6 600.0,507.5 C608.7,507.4 607.8,507.2 612.0,507.3 C616.2,507.4 619.5,507.6 625.0,507.8 C630.5,508.0 635.2,508.2 645.0,508.3 C654.8,508.4 677.5,508.6 684.0,508.7" stroke="#467f44"/>
<path d="M421.5,507.0 L422.8,509.5 L426.0,509.8 L429.2,511.1 L432.5,512.3 L435.7,511.1 L438.9,510.3 L442.1,510.7 L445.3,509.1 L447.7,510.3 L449.3,511.1 L451.7,507.5 L454.1,509.1 L457.3,510.3 L460.6,510.7 L463.8,511.9 L466.2,512.7 L469.4,513.0 L472.6,512.3 L475.0,509.1 L477.4,507.5 L480.6,507.8 L483.8,507.8 L487.1,508.7 L490.3,507.8 L493.5,509.5 L496.7,511.9 L499.9,510.3 L503.1,510.7 L506.3,510.3 L509.5,510.7 L512.7,511.1 L516.0,511.1 L519.2,503.8 L521.6,506.2 L524.0,507.0 L526.4,503.8 L529.3,499.0 L532.9,494.3 L536.4,490.7 L540.0,484.8 L543.6,477.6 L547.1,470.5 L550.7,469.3 L554.3,461.0 L557.9,451.4 L561.4,449.0 L565.0,441.9 L567.4,438.3 L571.0,427.6 L574.5,418.1 L578.1,411.0 L580.5,403.8 L584.0,396.7 L585.7,389.6 L587.6,381.1 L590.4,374.5 L593.2,366.9 L595.1,366.0 L597.0,361.3 L598.4,351.8 L599.9,346.1 L602.7,338.5 L604.6,331.0 L606.5,319.6 L608.4,309.2 L610.3,304.5 L612.2,304.1 L614.1,304.5 L616.0,304.1 L617.9,308.2 L619.8,319.6 L621.6,331.0 L623.5,340.4 L625.4,355.6 L627.3,374.5 L628.5,390.0 L630.1,408.0 L632.4,423.7 L634.6,439.5 L636.2,453.0 L639.1,464.2 L642.5,474.3 L645.9,481.1 L648.1,485.6 L651.5,489.0 L654.9,494.6 L658.2,498.0 L661.6,500.2 L665.0,502.0 L667.2,500.7 L669.5,503.6 L672.9,505.8 L676.2,508.1 L678.9,512.6 L681.9,511.5 L684.1,509.2" stroke="#ca262b"/>
</g>
<g fill="#1a1a1a">
<rect x="421.8" y="296.3" width="262.4" height="214.9" fill="none" stroke="#111" stroke-width="1.2"/>
<line x1="421.2" y1="511.2" x2="421.2" y2="506.7" stroke="#111" stroke-width="1.2"/>
<line x1="421.2" y1="296.3" x2="421.2" y2="300.8" stroke="#111" stroke-width="1.2"/>
<text x="420.4" y="529.2" font-size="14.2" text-anchor="middle">0</text>
<line x1="482.4" y1="511.2" x2="482.4" y2="506.7" stroke="#111" stroke-width="1.2"/>
<line x1="482.4" y1="296.3" x2="482.4" y2="300.8" stroke="#111" stroke-width="1.2"/>
<text x="481.6" y="529.2" font-size="14.2" text-anchor="middle">10</text>
<line x1="543.6" y1="511.2" x2="543.6" y2="506.7" stroke="#111" stroke-width="1.2"/>
<line x1="543.6" y1="296.3" x2="543.6" y2="300.8" stroke="#111" stroke-width="1.2"/>
<text x="542.8" y="529.2" font-size="14.2" text-anchor="middle">20</text>
<line x1="604.8" y1="511.2" x2="604.8" y2="506.7" stroke="#111" stroke-width="1.2"/>
<line x1="604.8" y1="296.3" x2="604.8" y2="300.8" stroke="#111" stroke-width="1.2"/>
<text x="604.0" y="529.2" font-size="14.2" text-anchor="middle">30</text>
<line x1="666.0" y1="511.2" x2="666.0" y2="506.7" stroke="#111" stroke-width="1.2"/>
<line x1="666.0" y1="296.3" x2="666.0" y2="300.8" stroke="#111" stroke-width="1.2"/>
<text x="665.2" y="529.2" font-size="14.2" text-anchor="middle">40</text>
<line x1="451.8" y1="511.2" x2="451.8" y2="508.6" stroke="#111" stroke-width="1.2"/>
<line x1="451.8" y1="296.3" x2="451.8" y2="298.9" stroke="#111" stroke-width="1.2"/>
<line x1="513.0" y1="511.2" x2="513.0" y2="508.6" stroke="#111" stroke-width="1.2"/>
<line x1="513.0" y1="296.3" x2="513.0" y2="298.9" stroke="#111" stroke-width="1.2"/>
<line x1="574.2" y1="511.2" x2="574.2" y2="508.6" stroke="#111" stroke-width="1.2"/>
<line x1="574.2" y1="296.3" x2="574.2" y2="298.9" stroke="#111" stroke-width="1.2"/>
<line x1="635.4" y1="511.2" x2="635.4" y2="508.6" stroke="#111" stroke-width="1.2"/>
<line x1="635.4" y1="296.3" x2="635.4" y2="298.9" stroke="#111" stroke-width="1.2"/>
<line x1="421.8" y1="509.5" x2="426.3" y2="509.5" stroke="#111" stroke-width="1.2"/>
<line x1="684.2" y1="509.5" x2="679.7" y2="509.5" stroke="#111" stroke-width="1.2"/>
<text x="415.5" y="514.9" font-size="14.2" text-anchor="end">0</text>
<line x1="421.8" y1="459.3" x2="426.3" y2="459.3" stroke="#111" stroke-width="1.2"/>
<line x1="684.2" y1="459.3" x2="679.7" y2="459.3" stroke="#111" stroke-width="1.2"/>
<text x="415.5" y="464.7" font-size="14.2" text-anchor="end">200</text>
<line x1="421.8" y1="409.1" x2="426.3" y2="409.1" stroke="#111" stroke-width="1.2"/>
<line x1="684.2" y1="409.1" x2="679.7" y2="409.1" stroke="#111" stroke-width="1.2"/>
<text x="415.5" y="414.5" font-size="14.2" text-anchor="end">400</text>
<line x1="421.8" y1="358.9" x2="426.3" y2="358.9" stroke="#111" stroke-width="1.2"/>
<line x1="684.2" y1="358.9" x2="679.7" y2="358.9" stroke="#111" stroke-width="1.2"/>
<text x="415.5" y="364.3" font-size="14.2" text-anchor="end">600</text>
<line x1="421.8" y1="308.7" x2="426.3" y2="308.7" stroke="#111" stroke-width="1.2"/>
<line x1="684.2" y1="308.7" x2="679.7" y2="308.7" stroke="#111" stroke-width="1.2"/>
<text x="415.5" y="314.1" font-size="14.2" text-anchor="end">800</text>
<line x1="421.8" y1="484.4" x2="424.4" y2="484.4" stroke="#111" stroke-width="1.2"/>
<line x1="684.2" y1="484.4" x2="681.6" y2="484.4" stroke="#111" stroke-width="1.2"/>
<line x1="421.8" y1="434.2" x2="424.4" y2="434.2" stroke="#111" stroke-width="1.2"/>
<line x1="684.2" y1="434.2" x2="681.6" y2="434.2" stroke="#111" stroke-width="1.2"/>
<line x1="421.8" y1="384.0" x2="424.4" y2="384.0" stroke="#111" stroke-width="1.2"/>
<line x1="684.2" y1="384.0" x2="681.6" y2="384.0" stroke="#111" stroke-width="1.2"/>
<line x1="421.8" y1="333.8" x2="424.4" y2="333.8" stroke="#111" stroke-width="1.2"/>
<line x1="684.2" y1="333.8" x2="681.6" y2="333.8" stroke="#111" stroke-width="1.2"/>
</g>
<line x1="426.5" y1="308.9" x2="462.5" y2="308.9" stroke="#3a4c94" stroke-width="2.6"/>
<text x="470" y="313.8" font-size="14.2" fill="#1a1a1a">GB region</text>
<line x1="426.5" y1="327.6" x2="462.5" y2="327.6" stroke="#cf7e36" stroke-width="2.6"/>
<text x="470" y="332.5" font-size="14.2" fill="#1a1a1a">Left grain</text>
<line x1="426.5" y1="346.4" x2="462.5" y2="346.4" stroke="#467f44" stroke-width="2.6"/>
<text x="470" y="351.3" font-size="14.2" fill="#1a1a1a">Right grain</text>
<line x1="426.5" y1="365.1" x2="462.5" y2="365.1" stroke="#ca262b" stroke-width="2.6"/>
<text x="470" y="370.0" font-size="14.2" fill="#1a1a1a">Isolated GB</text>
<text x="551" y="551.3" font-size="14.2" text-anchor="middle" fill="#1a1a1a">Time (s)</text>
<text transform="translate(375,404.2) rotate(-90)" font-size="14.2" text-anchor="middle" fill="#1a1a1a">Sensitivity (%)</text>
<rect x="447.3" y="391.4" width="91.1" height="66.4" fill="#fff" stroke="#222" stroke-width="1"/>
<g fill="none" stroke-width="2.4" stroke-linejoin="round" stroke-linecap="round">
<path d="M447.5,457.2 C448.2,457.0 450.2,456.7 452.0,456.0 C453.8,455.3 455.8,454.9 458.0,453.0 C460.2,451.1 463.3,446.8 465.5,444.5 C467.7,442.2 469.1,440.8 471.0,439.0 C472.9,437.2 475.2,436.2 477.0,434.0 C478.8,431.8 480.4,428.5 482.0,426.0 C483.6,423.5 484.9,421.3 486.4,419.0 C487.9,416.7 489.6,414.4 491.0,412.0 C492.4,409.6 493.8,407.1 495.0,404.7 C496.2,402.3 497.1,399.2 498.0,397.5 C498.9,395.8 499.9,394.5 500.7,394.2 C501.5,393.9 502.2,394.5 503.0,395.5 C503.8,396.5 504.6,397.6 505.4,400.0 C506.2,402.4 507.2,406.1 508.0,410.0 C508.8,413.9 509.4,419.9 510.1,423.7 C510.9,427.5 511.7,430.2 512.5,433.0 C513.3,435.8 514.0,438.4 514.9,440.7 C515.8,443.0 516.7,445.0 518.0,447.0 C519.3,449.0 520.8,451.1 522.5,452.5 C524.2,453.9 526.1,454.6 528.0,455.3 C529.9,456.0 532.2,456.5 533.9,456.8 C535.6,457.1 537.3,457.1 538.0,457.2" stroke="#3a4c94"/>
<path d="M447.5,457.4 C451.2,457.2 462.9,456.8 470.0,456.2 C477.1,455.6 485.5,454.2 490.0,453.5 C494.5,452.8 495.2,452.3 497.0,452.0 C498.8,451.7 499.4,451.6 500.7,451.7 C502.0,451.8 503.4,452.1 505.0,452.6 C506.6,453.2 508.3,454.3 510.0,455.0 C511.7,455.7 510.3,456.2 515.0,456.6 C519.7,457.0 534.2,457.3 538.0,457.4" stroke="#cf7e36"/>
<path d="M447.5,457.2 C449.6,456.9 455.4,456.1 460.0,455.5 C464.6,454.9 470.0,454.3 475.0,453.5 C480.0,452.7 486.3,451.3 490.0,450.5 C493.7,449.7 495.2,449.1 497.0,448.7 C498.8,448.3 499.4,447.9 500.7,448.0 C502.0,448.1 503.4,448.2 505.0,449.0 C506.6,449.8 508.3,451.5 510.0,452.5 C511.7,453.5 512.5,454.5 515.0,455.2 C517.5,455.9 521.2,456.3 525.0,456.6 C528.8,456.9 535.8,457.1 538.0,457.2" stroke="#467f44"/>
</g>
<line x1="463.5" y1="457.8" x2="463.5" y2="454.8" stroke="#222" stroke-width="1"/>
<line x1="463.5" y1="391.4" x2="463.5" y2="394.4" stroke="#222" stroke-width="1"/>
<text x="462.9" y="473" font-size="11.5" text-anchor="middle" fill="#1a1a1a">20</text>
<line x1="496.4" y1="457.8" x2="496.4" y2="454.8" stroke="#222" stroke-width="1"/>
<line x1="496.4" y1="391.4" x2="496.4" y2="394.4" stroke="#222" stroke-width="1"/>
<text x="495.4" y="473" font-size="11.5" text-anchor="middle" fill="#1a1a1a">30</text>
<line x1="529.3" y1="457.8" x2="529.3" y2="454.8" stroke="#222" stroke-width="1"/>
<line x1="529.3" y1="391.4" x2="529.3" y2="394.4" stroke="#222" stroke-width="1"/>
<text x="527.5" y="473" font-size="11.5" text-anchor="middle" fill="#1a1a1a">40</text>
<line x1="479.9" y1="457.8" x2="479.9" y2="455.8" stroke="#222" stroke-width="1"/>
<line x1="479.9" y1="391.4" x2="479.9" y2="393.4" stroke="#222" stroke-width="1"/>
<line x1="512.9" y1="457.8" x2="512.9" y2="455.8" stroke="#222" stroke-width="1"/>
<line x1="512.9" y1="391.4" x2="512.9" y2="393.4" stroke="#222" stroke-width="1"/>
<line x1="447.3" y1="457.2" x2="450.3" y2="457.2" stroke="#222" stroke-width="1"/>
<line x1="538.4" y1="457.2" x2="535.4" y2="457.2" stroke="#222" stroke-width="1"/>
<text x="443" y="461.3" font-size="11.5" text-anchor="end" fill="#1a1a1a">0</text>
<line x1="447.3" y1="425.1" x2="450.3" y2="425.1" stroke="#222" stroke-width="1"/>
<line x1="538.4" y1="425.1" x2="535.4" y2="425.1" stroke="#222" stroke-width="1"/>
<text x="443" y="429.2" font-size="11.5" text-anchor="end" fill="#1a1a1a">20</text>
<line x1="447.3" y1="392.9" x2="450.3" y2="392.9" stroke="#222" stroke-width="1"/>
<line x1="538.4" y1="392.9" x2="535.4" y2="392.9" stroke="#222" stroke-width="1"/>
<text x="443" y="397.0" font-size="11.5" text-anchor="end" fill="#1a1a1a">40</text>
<line x1="447.3" y1="441.1" x2="449.3" y2="441.1" stroke="#222" stroke-width="1"/>
<line x1="538.4" y1="441.1" x2="536.4" y2="441.1" stroke="#222" stroke-width="1"/>
<line x1="447.3" y1="409.0" x2="449.3" y2="409.0" stroke="#222" stroke-width="1"/>
<line x1="538.4" y1="409.0" x2="536.4" y2="409.0" stroke="#222" stroke-width="1"/>
</svg></body></html>
